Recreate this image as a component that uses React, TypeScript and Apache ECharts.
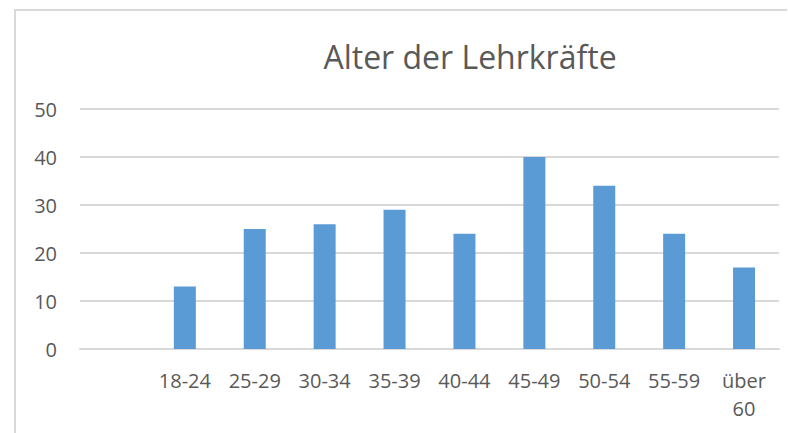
import React, { useEffect, useRef } from "react";
import * as echarts from "echarts";

const categories: string[] = ["", "18-24", "25-29", "30-34", "35-39", "40-44", "45-49", "50-54", "55-59", "über\n60"];
const values: (number | null)[] = [null, 13, 25, 26, 29, 24, 40, 34, 24, 17];
const yTicks = { min: 0, max: 50, interval: 10 };
const titleText = "Alter der Lehrkräfte";

const FONT = "'Open Sans', 'Noto Sans', sans-serif";

export default function App() {
  const ref = useRef<HTMLDivElement>(null);
  useEffect(() => {
    if (!ref.current) return;
    const chart = echarts.init(ref.current, undefined, { renderer: "svg" });
    chart.setOption({
      animation: false,
      backgroundColor: "#ffffff",
      title: {
        text: titleText,
        left: 465,
        top: 35,
        textAlign: "center",
        textStyle: { fontFamily: FONT, fontSize: 32, fontWeight: "normal", color: "#595959" },
      },
      graphic: [
        { type: "line", shape: { x1: 14, y1: 10, x2: 787, y2: 10 }, style: { stroke: "#d9d9d9", lineWidth: 2 } },
        { type: "line", shape: { x1: 15, y1: 10, x2: 15, y2: 433 }, style: { stroke: "#d9d9d9", lineWidth: 2 } },
      ],
      grid: { left: 80, right: 9, top: 109, bottom: 84, containLabel: false },
      xAxis: {
        type: "category",
        data: categories,
        axisTick: { show: false },
        axisLine: { show: true, lineStyle: { color: "#d9d9d9", width: 2 } },
        axisLabel: {
          interval: 0,
          color: "#595959",
          fontFamily: FONT,
          fontSize: 20,
          margin: 17,
          lineHeight: 28,
        },
      },
      yAxis: {
        type: "value",
        min: yTicks.min,
        max: yTicks.max,
        interval: yTicks.interval,
        axisLine: { show: false },
        axisTick: { show: false },
        splitLine: { lineStyle: { color: "#d9d9d9", width: 2 } },
        axisLabel: { color: "#595959", fontFamily: FONT, fontSize: 20, margin: 23 },
      },
      series: [
        {
          type: "bar",
          data: values,
          barWidth: 22,
          itemStyle: { color: "#5b9bd5" },
        },
      ],
    });
    return () => chart.dispose();
  }, []);
  return <div ref={ref} style={{ position: "fixed", left: 0, top: 0, width: 788, height: 433 }} />;
}
